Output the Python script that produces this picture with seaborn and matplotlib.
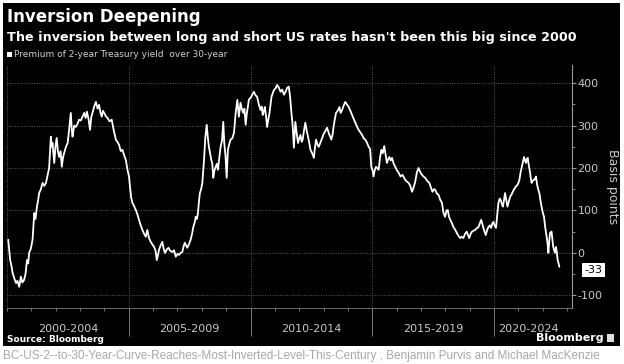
"""
Bloomberg-style chart: 2-year vs 30-year Treasury yield premium.
"""

import numpy as np
import pandas as pd
import matplotlib
matplotlib.use("Agg")
import matplotlib.pyplot as plt
from matplotlib.patches import Rectangle
from matplotlib.ticker import MultipleLocator
import seaborn as sns

# values (decimal year, basis points)
years = [
    2000.05, 2000.10, 2000.13, 2000.18, 2000.23, 2000.30, 2000.37, 2000.43, 2000.50, 2000.57,
    2000.63, 2000.70, 2000.76, 2000.82, 2000.87, 2000.91, 2000.98, 2001.05, 2001.12, 2001.17,
    2001.23, 2001.28, 2001.32, 2001.39, 2001.46, 2001.53, 2001.60, 2001.67, 2001.73, 2001.80,
    2001.84, 2001.87, 2001.94, 2001.99, 2002.04, 2002.09, 2002.14, 2002.20, 2002.25, 2002.30,
    2002.35, 2002.42, 2002.49, 2002.55, 2002.62, 2002.66, 2002.69, 2002.76, 2002.83, 2002.90,
    2002.96, 2003.03, 2003.10, 2003.17, 2003.23, 2003.28, 2003.35, 2003.41, 2003.46, 2003.51,
    2003.58, 2003.65, 2003.72, 2003.78, 2003.84, 2003.89, 2003.94, 2003.99, 2004.06, 2004.13,
    2004.21, 2004.30, 2004.38, 2004.47, 2004.53, 2004.60, 2004.67, 2004.74, 2004.81, 2004.88,
    2004.95, 2005.01, 2005.05, 2005.10, 2005.15, 2005.22, 2005.29, 2005.35, 2005.42, 2005.49,
    2005.56, 2005.63, 2005.70, 2005.76, 2005.83, 2005.90, 2005.97, 2006.04, 2006.10, 2006.15,
    2006.20, 2006.24, 2006.31, 2006.38, 2006.43, 2006.49, 2006.56, 2006.63, 2006.70, 2006.79,
    2006.86, 2006.93, 2007.00, 2007.06, 2007.13, 2007.20, 2007.25, 2007.30, 2007.35, 2007.40,
    2007.47, 2007.54, 2007.60, 2007.65, 2007.70, 2007.75, 2007.80, 2007.84, 2007.88, 2007.92,
    2007.97, 2008.02, 2008.06, 2008.09, 2008.14, 2008.20, 2008.25, 2008.29, 2008.34, 2008.39,
    2008.43, 2008.47, 2008.52, 2008.57, 2008.62, 2008.66, 2008.72, 2008.77, 2008.83, 2008.88,
    2008.92, 2008.97, 2009.02, 2009.07, 2009.12, 2009.18, 2009.25, 2009.32, 2009.39, 2009.46,
    2009.52, 2009.59, 2009.64, 2009.70, 2009.75, 2009.80, 2009.85, 2009.89, 2009.93, 2010.03,
    2010.09, 2010.14, 2010.20, 2010.27, 2010.34, 2010.41, 2010.46, 2010.50, 2010.55, 2010.59,
    2010.64, 2010.68, 2010.73, 2010.78, 2010.82, 2010.86, 2010.92, 2010.96, 2011.03, 2011.09,
    2011.16, 2011.23, 2011.30, 2011.37, 2011.44, 2011.50, 2011.57, 2011.62, 2011.68, 2011.73,
    2011.78, 2011.84, 2011.90, 2011.95, 2012.00, 2012.05, 2012.10, 2012.14, 2012.20, 2012.25,
    2012.30, 2012.36, 2012.41, 2012.46, 2012.53, 2012.60, 2012.64, 2012.69, 2012.75, 2012.80,
    2012.87, 2012.94, 2013.00, 2013.05, 2013.14, 2013.20, 2013.24, 2013.32, 2013.37, 2013.41,
    2013.46, 2013.51, 2013.58, 2013.65, 2013.70, 2013.76, 2013.83, 2013.89, 2013.96, 2014.03,
    2014.10, 2014.17, 2014.24, 2014.30, 2014.37, 2014.44, 2014.51, 2014.58, 2014.65, 2014.71,
    2014.78, 2014.85, 2014.91, 2014.96, 2015.01, 2015.05, 2015.10, 2015.15, 2015.20, 2015.26,
    2015.32, 2015.37, 2015.43, 2015.49, 2015.55, 2015.60, 2015.65, 2015.70, 2015.76, 2015.81,
    2015.88, 2015.94, 2016.01, 2016.08, 2016.16, 2016.24, 2016.30, 2016.35, 2016.42, 2016.49,
    2016.56, 2016.63, 2016.70, 2016.76, 2016.83, 2016.90, 2016.97, 2017.04, 2017.10, 2017.17,
    2017.25, 2017.34, 2017.40, 2017.47, 2017.53, 2017.58, 2017.65, 2017.72, 2017.79, 2017.86,
    2017.92, 2017.99, 2018.05, 2018.10, 2018.15, 2018.20, 2018.27, 2018.33, 2018.40, 2018.47,
    2018.54, 2018.61, 2018.67, 2018.74, 2018.81, 2018.88, 2018.93, 2018.98, 2019.04, 2019.09,
    2019.15, 2019.22, 2019.29, 2019.36, 2019.42, 2019.47, 2019.52, 2019.56, 2019.61, 2019.66,
    2019.72, 2019.77, 2019.83, 2019.88, 2019.93, 2019.97, 2020.02, 2020.08, 2020.13, 2020.18,
    2020.23, 2020.27, 2020.32, 2020.36, 2020.41, 2020.45, 2020.50, 2020.55, 2020.60, 2020.66,
    2020.72, 2020.77, 2020.82, 2020.86, 2020.91, 2020.96, 2021.00, 2021.04, 2021.09, 2021.14,
    2021.19, 2021.23, 2021.27, 2021.31, 2021.34, 2021.38, 2021.43, 2021.48, 2021.51, 2021.54,
    2021.59, 2021.64, 2021.68, 2021.72, 2021.77, 2021.81, 2021.86, 2021.90, 2021.95, 2022.00,
    2022.05, 2022.10, 2022.16, 2022.20, 2022.23, 2022.27, 2022.30, 2022.36, 2022.40, 2022.43,
    2022.47, 2022.50, 2022.54, 2022.58, 2022.61, 2022.65, 2022.68,
]
premium_bp = [
    31, 0, -17, -30, -47, -60, -71, -66, -80, -56,
    -70, -64, -50, -17, -25, 0, 10, 31, 94, 80,
    109, 125, 141, 150, 165, 158, 165, 184, 200, 274,
    250, 259, 212, 250, 271, 240, 226, 240, 203, 225,
    236, 250, 259, 290, 330, 290, 274, 300, 297, 305,
    314, 312, 321, 330, 318, 333, 315, 290, 320, 330,
    345, 356, 340, 349, 330, 321, 335, 330, 322, 318,
    310, 314, 290, 267, 262, 255, 240, 243, 230, 219,
    195, 180, 156, 130, 118, 110, 101, 92, 78, 65,
    54, 45, 38, 54, 35, 26, 20, 14, 5, -17,
    -5, 7, 18, 26, 10, 0, 8, 12, 5, 2,
    6, -9, -2, -5, 0, 2, 15, 24, 18, 12,
    20, 31, 45, 61, 70, 85, 80, 94, 120, 141,
    150, 165, 195, 219, 270, 302, 270, 250, 235, 219,
    210, 177, 195, 203, 210, 196, 225, 250, 265, 309,
    260, 230, 177, 243, 255, 267, 270, 283, 330, 361,
    321, 354, 340, 330, 340, 302, 330, 344, 361, 368,
    375, 380, 372, 368, 350, 337, 345, 325, 335, 344,
    320, 297, 315, 330, 350, 368, 378, 384, 388, 396,
    390, 380, 385, 373, 380, 389, 392, 370, 330, 300,
    248, 309, 280, 259, 270, 278, 262, 267, 290, 307,
    290, 274, 260, 243, 235, 224, 245, 267, 255, 250,
    260, 271, 280, 285, 295, 285, 278, 267, 280, 297,
    315, 330, 335, 344, 330, 337, 348, 356, 350, 344,
    335, 325, 315, 307, 298, 290, 284, 278, 270, 267,
    260, 250, 245, 203, 195, 180, 195, 203, 200, 196,
    225, 243, 235, 252, 230, 212, 220, 226, 218, 224,
    210, 203, 195, 189, 180, 184, 178, 172, 168, 165,
    158, 144, 155, 167, 190, 200, 190, 184, 180, 177,
    170, 165, 155, 144, 150, 149, 140, 137, 125, 118,
    95, 85, 100, 101, 85, 78, 70, 61, 55, 47,
    40, 35, 38, 35, 45, 50, 42, 35, 45, 50,
    52, 54, 58, 61, 70, 78, 68, 59, 50, 42,
    55, 61, 65, 59, 70, 73, 65, 59, 90, 118,
    128, 125, 115, 109, 125, 141, 125, 109, 120, 132,
    138, 144, 150, 153, 158, 160, 165, 172, 190, 203,
    215, 226, 218, 212, 220, 224, 205, 189, 175, 165,
    170, 172, 175, 180, 160, 150, 141, 125, 109, 95,
    85, 60, 38, 20, 0, 30, 47, 50, 30, 14,
    5, 0, 14, 0, -17, -25, -33,
]

period_labels = ["2000-2004", "2005-2009", "2010-2014", "2015-2019", "2020-2024"]
period_centers = [2002.5, 2007.5, 2012.5, 2017.5, 2021.4]
period_breaks = [2005, 2010, 2015, 2020]
y_ticks = [-100, 0, 100, 200, 300, 400]

df = pd.DataFrame({"year": years, "bp": premium_bp})

sns.set_style("dark")
plt.rcParams['font.family'] = ['DejaVu Sans']

W, H = 624, 364
fig = plt.figure(figsize=(W / 100, H / 100), dpi=100)
fig.patch.set_facecolor("white")
# black panel behind everything
fig.patches.append(Rectangle((3 / W, 1 - 346 / H), 617 / W, 343 / H,
                             transform=fig.transFigure, facecolor="black",
                             edgecolor="none", zorder=-10))

ax = fig.add_axes([7 / W, 1 - 308 / H, 565 / W, 243 / H])
ax.set_facecolor("black")
ax.set_zorder(1)

sns.lineplot(data=df, x="year", y="bp", color="white", linewidth=1.3, ax=ax)

ax.set_xlim(2000.0, 2023.2)
ax.set_ylim(-130, 443)

# grid
for v in y_ticks:
    ax.axhline(v, color="#5a5a5a", linestyle=(0, (1, 1.5)), linewidth=0.7, zorder=0)
for b in [2000] + period_breaks:
    ax.axvline(b, color="#5a5a5a", linestyle=(0, (1, 1.5)), linewidth=0.7, zorder=0)

# y axis on the right
ax.yaxis.tick_right()
ax.yaxis.set_label_position("right")
ax.set_yticks(y_ticks)
ax.set_yticklabels([str(v) for v in y_ticks])
ax.yaxis.set_minor_locator(MultipleLocator(50))
ax.tick_params(axis="y", which="both", right=True, left=False)
ax.tick_params(axis="y", which="major", direction="out", length=3, width=0.8,
               color="#9a9a9a", labelcolor="#c8c8c8", labelsize=8, pad=1)
ax.tick_params(axis="y", which="minor", direction="out", length=2, width=0.6,
               color="#9a9a9a")
ax.set_ylabel("Basis points", color="#c8c8c8", fontsize=9, rotation=270,
              labelpad=12)

# x axis: year ticks, long separators between periods
ax.set_xticks(period_breaks)
ax.set_xticklabels([])
ax.xaxis.set_minor_locator(MultipleLocator(1))
ax.tick_params(axis="x", which="both", bottom=True, top=False)
ax.tick_params(axis="x", which="major", direction="out", length=20, width=0.7,
               color="#7a7a7a")
ax.tick_params(axis="x", which="minor", direction="out", length=2.5, width=0.6,
               color="#8a8a8a")
for lab, c in zip(period_labels, period_centers):
    ax.text(c, -0.085, lab, transform=ax.get_xaxis_transform(), ha="center",
            va="center", color="#c8c8c8", fontsize=8)

for side in ["top", "left"]:
    ax.spines[side].set_visible(False)
ax.spines["right"].set_color("#9a9a9a")
ax.spines["right"].set_linewidth(0.8)
ax.spines["bottom"].set_color("#7a7a7a")
ax.spines["bottom"].set_linewidth(0.6)
ax.set_xlabel("")

# last value tag
ax.text(1.022, premium_bp[-1] - 8, f"{premium_bp[-1]}", transform=ax.get_yaxis_transform(),
        ha="left", va="center", color="black", fontsize=8,
        bbox=dict(boxstyle="square,pad=0.2", facecolor="white", edgecolor="none"))

# titles and legend
fig.text(7 / W, 1 - 17 / H, "Inversion Deepening", color="white", fontsize=12,
         fontweight="bold", ha="left", va="center")
fig.text(7 / W, 1 - 37 / H,
         "The inversion between long and short US rates hasn't been this big since 2000",
         color="white", fontsize=9.2, fontweight="bold", ha="left", va="center")
fig.patches.append(Rectangle((7 / W, 1 - 57 / H), 5 / W, 5 / H, transform=fig.transFigure,
                             facecolor="white", edgecolor="none", zorder=2))
fig.text(14 / W, 1 - 54.5 / H, "Premium of 2-year Treasury yield  over 30-year",
         color="#d0d0d0", fontsize=6.5, ha="left", va="center",
         family=["Liberation Sans Narrow", "DejaVu Sans"])

fig.text(7 / W, 1 - 340 / H, "Source: Bloomberg", color="white", fontsize=6.5,
         fontweight="bold", ha="left", va="center")
fig.text(604 / W, 1 - 338 / H, "Bloomberg", color="white", fontsize=8,
         fontweight="bold", ha="right", va="center")
fig.patches.append(Rectangle((607 / W, 1 - 342 / H), 7 / W, 8 / H, transform=fig.transFigure,
                             facecolor="#dddddd", edgecolor="none", zorder=2))

fig.text(3 / W, 1 - 356 / H,
         "BC-US-2--to-30-Year-Curve-Reaches-Most-Inverted-Level-This-Century , Benjamin Purvis and Michael MacKenzie",
         color="#a8a8a8", fontsize=8.5, ha="left", va="center",
         family=["Liberation Sans Narrow", "Liberation Sans"])

fig.savefig("out.png", dpi=100, facecolor=fig.get_facecolor())
